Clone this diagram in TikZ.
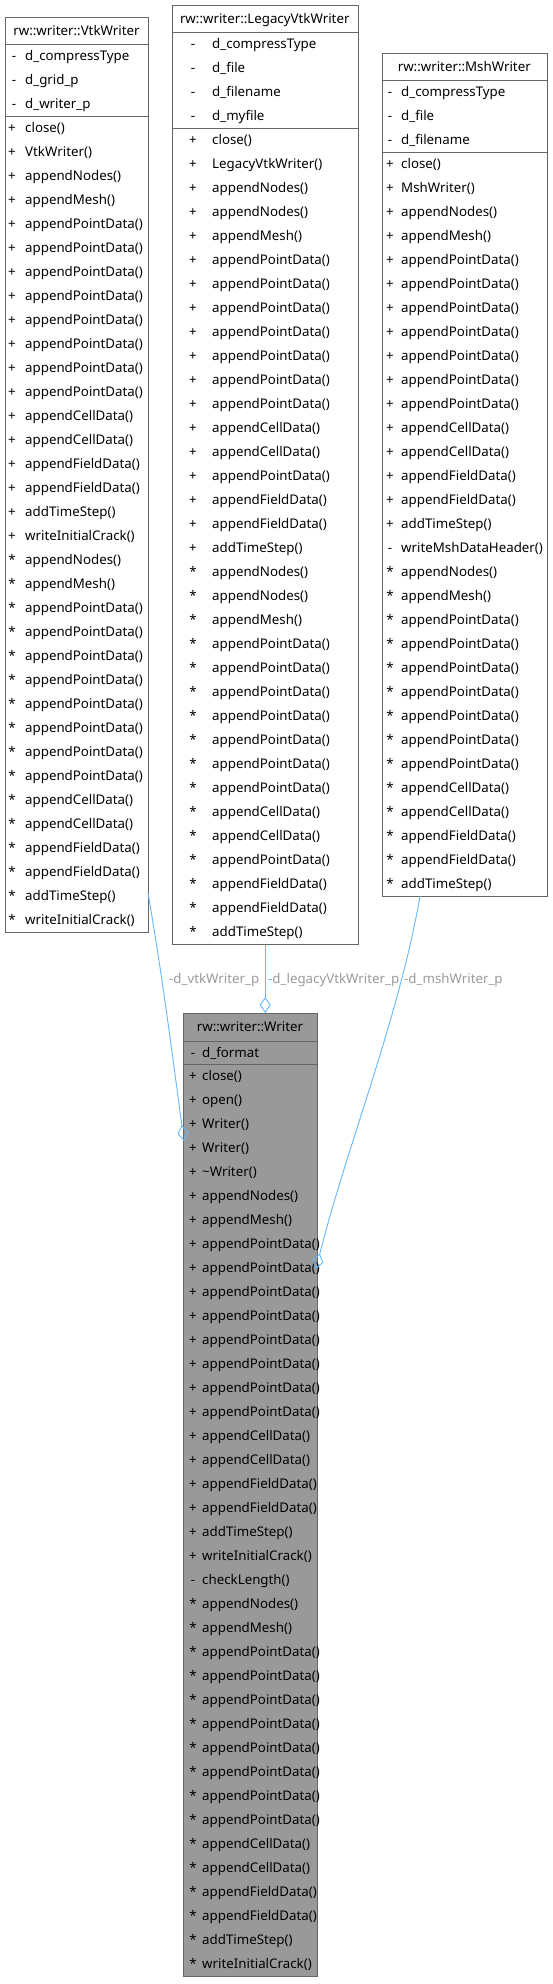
\documentclass[tikz,border=0pt]{standalone}
\usepackage{fontspec}
\setmainfont{Noto Sans}
\usetikzlibrary{arrows.meta,calc}
\definecolor{edgeblue}{HTML}{63B8FF}
\definecolor{lblgray}{HTML}{9A9A9A}
\definecolor{bordgray}{HTML}{666666}
\definecolor{wfill}{HTML}{999999}
\newcommand\classrows[5]{% #1 sym x, #2 text x, #3 top y, #4 prefix, #5 list
  \foreach \s/\t [count=\i] in {#5} {
    \node[symtxt, name=#4s\i] at (#1, #3+\i*24-7.5) {\s};
    \node[memtxt, name=#4m\i] at (#2, #3+\i*24-7.5) {\t};
  }}
\begin{document}
\begin{tikzpicture}[x=1pt,y=-1pt,
  txt/.style={font=\fontsize{13.3}{16}\selectfont, inner sep=0pt, text=black},
  symtxt/.style={txt, anchor=base},
  memtxt/.style={txt, anchor=base west},
  titletxt/.style={txt, anchor=base},
  classbox/.style={draw=bordgray, line width=0.9pt, fill=white, anchor=north west, inner sep=0pt, rectangle},
  sepline/.style={draw=bordgray, line width=0.9pt},
  edge/.style={draw=edgeblue, line width=0.9pt, -{Diamond[open, length=16pt, width=11pt]}},
  elabel/.style={font=\fontsize{13.3}{16}\selectfont, inner sep=0pt, text=lblgray, anchor=base west},
]
\path[use as bounding box] (0,0) rectangle (553,1984);

% ---------- VtkWriter ----------
\node[classbox, minimum width=143pt, minimum height=915pt] (vtk) at (5,17) {};
\draw[sepline] ([yshift=-27pt]vtk.north west) -- ([yshift=-27pt]vtk.north east);
\draw[sepline] ([yshift=-99pt]vtk.north west) -- ([yshift=-99pt]vtk.north east);
\node[titletxt] (vtkt) at (76.5,35) {rw::writer::VtkWriter};
\classrows{14}{25}{44}{vtka}{-/d\_compressType,-/d\_grid\_p,-/d\_writer\_p}
\classrows{12}{25}{116}{vtkm}{+/close(),+/VtkWriter(),+/appendNodes(),+/appendMesh(),
 +/appendPointData(),+/appendPointData(),+/appendPointData(),+/appendPointData(),
 +/appendPointData(),+/appendPointData(),+/appendPointData(),+/appendPointData(),
 +/appendCellData(),+/appendCellData(),+/appendFieldData(),+/appendFieldData(),
 +/addTimeStep(),+/writeInitialCrack(),
 */appendNodes(),*/appendMesh(),
 */appendPointData(),*/appendPointData(),*/appendPointData(),*/appendPointData(),
 */appendPointData(),*/appendPointData(),*/appendPointData(),*/appendPointData(),
 */appendCellData(),*/appendCellData(),*/appendFieldData(),*/appendFieldData(),
 */addTimeStep(),*/writeInitialCrack()}

% ---------- LegacyVtkWriter ----------
\node[classbox, minimum width=186.5pt, minimum height=939pt] (leg) at (171.5,5) {};
\draw[sepline] ([yshift=-27pt]leg.north west) -- ([yshift=-27pt]leg.north east);
\draw[sepline] ([yshift=-123pt]leg.north west) -- ([yshift=-123pt]leg.north east);
\node[titletxt] (legt) at (264.75,23) {rw::writer::LegacyVtkWriter};
\classrows{193}{212}{32}{lega}{-/d\_compressType,-/d\_file,-/d\_filename,-/d\_myfile}
\classrows{193}{212}{128}{legm}{+/close(),+/LegacyVtkWriter(),+/appendNodes(),+/appendNodes(),+/appendMesh(),
 +/appendPointData(),+/appendPointData(),+/appendPointData(),+/appendPointData(),
 +/appendPointData(),+/appendPointData(),+/appendPointData(),
 +/appendCellData(),+/appendCellData(),+/appendPointData(),+/appendFieldData(),+/appendFieldData(),
 +/addTimeStep(),
 */appendNodes(),*/appendNodes(),*/appendMesh(),
 */appendPointData(),*/appendPointData(),*/appendPointData(),*/appendPointData(),
 */appendPointData(),*/appendPointData(),*/appendPointData(),
 */appendCellData(),*/appendCellData(),*/appendPointData(),*/appendFieldData(),*/appendFieldData(),
 */addTimeStep()}

% ---------- MshWriter ----------
\node[classbox, minimum width=165.5pt, minimum height=843pt] (msh) at (381.5,53) {};
\draw[sepline] ([yshift=-27pt]msh.north west) -- ([yshift=-27pt]msh.north east);
\draw[sepline] ([yshift=-99pt]msh.north west) -- ([yshift=-99pt]msh.north east);
\node[titletxt] (msht) at (464.25,71) {rw::writer::MshWriter};
\classrows{390}{401}{80}{msha}{-/d\_compressType,-/d\_file,-/d\_filename}
\classrows{390}{401}{152}{mshm}{+/close(),+/MshWriter(),+/appendNodes(),+/appendMesh(),
 +/appendPointData(),+/appendPointData(),+/appendPointData(),+/appendPointData(),
 +/appendPointData(),+/appendPointData(),+/appendPointData(),
 +/appendCellData(),+/appendCellData(),+/appendFieldData(),+/appendFieldData(),
 +/addTimeStep(),-/writeMshDataHeader(),
 */appendNodes(),*/appendMesh(),
 */appendPointData(),*/appendPointData(),*/appendPointData(),*/appendPointData(),
 */appendPointData(),*/appendPointData(),*/appendPointData(),
 */appendCellData(),*/appendCellData(),*/appendFieldData(),*/appendFieldData(),
 */addTimeStep()}

% ---------- Writer ----------
\node[classbox, fill=wfill, minimum width=134pt, minimum height=963pt] (wr) at (183,1013) {};
\draw[sepline] ([yshift=-28pt]wr.north west) -- ([yshift=-28pt]wr.north east);
\draw[sepline] ([yshift=-51pt]wr.north west) -- ([yshift=-51pt]wr.north east);
\node[titletxt] (wrt) at (250,1031.5) {rw::writer::Writer};
\classrows{193}{202}{1041}{wra}{-/d\_format}
\classrows{193}{202}{1064}{wrm}{+/close(),+/open(),+/Writer(),+/Writer(),+/\textasciitilde Writer(),
 +/appendNodes(),+/appendMesh(),
 +/appendPointData(),+/appendPointData(),+/appendPointData(),+/appendPointData(),
 +/appendPointData(),+/appendPointData(),+/appendPointData(),+/appendPointData(),
 +/appendCellData(),+/appendCellData(),+/appendFieldData(),+/appendFieldData(),
 +/addTimeStep(),+/writeInitialCrack(),-/checkLength(),
 */appendNodes(),*/appendMesh(),
 */appendPointData(),*/appendPointData(),*/appendPointData(),*/appendPointData(),
 */appendPointData(),*/appendPointData(),*/appendPointData(),*/appendPointData(),
 */appendCellData(),*/appendCellData(),*/appendFieldData(),*/appendFieldData(),
 */addTimeStep(),*/writeInitialCrack()}

% ---------- connectors ----------
\coordinate (e1s) at (148,893);
\coordinate (e1e) at (184,1141);
\draw[edge] (e1s) .. controls (162,973) and (173,1060) .. (e1e);
\coordinate (e2s) at (leg.south);
\coordinate (e2e) at (leg.south |- wr.north);
\draw[edge] (e2s) -- (e2e);
\coordinate (e3s) at (420,896);
\coordinate (e3e) at (316,1269);
\draw[edge] (e3s) .. controls (399,1018) and (346,1149) .. (e3e);

\node[elabel] (l1) at (169,983.5) {-d\_vtkWriter\_p};
\node[elabel] (l2) at (268,983.5) {-d\_legacyVtkWriter\_p};
\node[elabel] (l3) at (404,983.5) {-d\_mshWriter\_p};
\end{tikzpicture}
\end{document}
